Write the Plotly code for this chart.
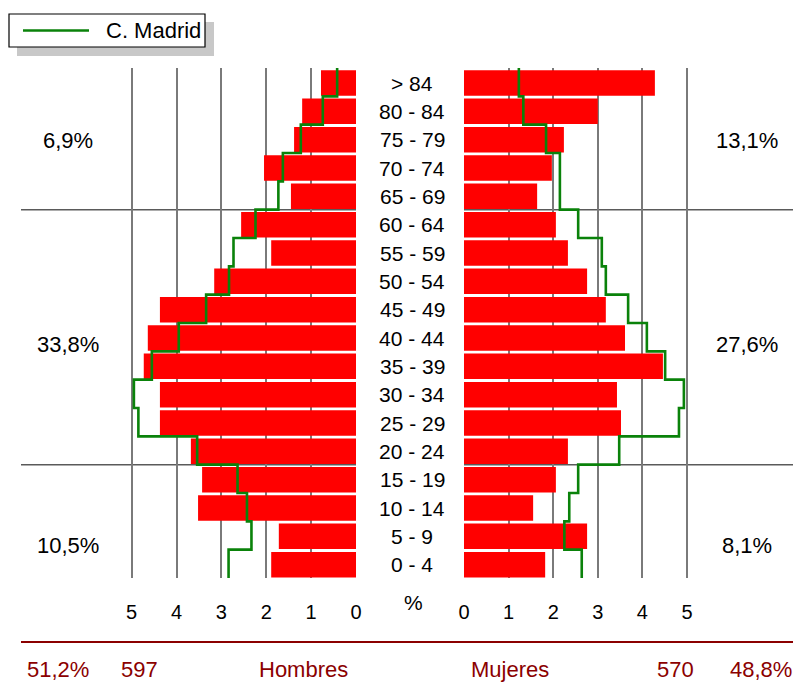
import numpy as np
import plotly.graph_objects as go

W, H = 793, 684

age_groups = ["0 - 4", "5 - 9", "10 - 14", "15 - 19", "20 - 24", "25 - 29", "30 - 34",
              "35 - 39", "40 - 44", "45 - 49", "50 - 54", "55 - 59", "60 - 64",
              "65 - 69", "70 - 74", "75 - 79", "80 - 84", "> 84"]

hombres = [1.89, 1.72, 3.52, 3.43, 3.68, 4.37, 4.37, 4.73, 4.64, 4.37, 3.16, 1.89, 2.56,
           1.45, 2.05, 1.38, 1.20, 0.78]
mujeres = [1.82, 2.76, 1.55, 2.06, 2.33, 3.52, 3.43, 4.46, 3.61, 3.18, 2.76, 2.33, 2.06,
           1.64, 1.97, 2.24, 3.00, 4.28]
madrid_h = [2.84, 2.33, 2.43, 2.64, 3.54, 4.85, 4.95, 4.55, 3.95, 3.34, 2.83, 2.73, 2.24,
            1.73, 1.63, 1.23, 0.74, 0.42]
madrid_m = [2.64, 2.25, 2.36, 2.56, 3.48, 4.82, 4.93, 4.51, 4.10, 3.68, 3.18, 3.09, 2.56,
            2.15, 2.15, 1.84, 1.33, 1.23]

tick_vals = [0, 1, 2, 3, 4, 5]
tick_text = ["0", "1", "2", "3", "4", "5"]

left_pct = ["10,5%", "33,8%", "6,9%"]
right_pct = ["8,1%", "27,6%", "13,1%"]
bottom_labels = ["51,2%", "597", "Hombres", "Mujeres", "570", "48,8%"]
legend_label = "C. Madrid"

FONT = "Liberation Sans, Arial, sans-serif"
RED = "#FF0000"
GREEN = "#0a820a"
DARKRED = "#8B0000"

idx = np.arange(len(age_groups))


def step(vals):
    v = np.asarray(vals, dtype=float)
    xs = np.repeat(v, 2)
    ys = np.column_stack([idx - 0.5, idx + 0.5]).ravel()
    return xs, ys


fig = go.Figure()

fig.add_trace(go.Bar(x=hombres, y=idx, orientation="h", marker=dict(color=RED, line=dict(width=0)),
                     width=0.9, offset=-0.48, xaxis="x", yaxis="y", showlegend=False,
                     hoverinfo="skip"))
fig.add_trace(go.Bar(x=mujeres, y=idx, orientation="h", marker=dict(color=RED, line=dict(width=0)),
                     width=0.9, offset=-0.48, xaxis="x2", yaxis="y2", showlegend=False,
                     hoverinfo="skip"))

xh, yh = step(madrid_h)
xm, ym = step(madrid_m)
fig.add_trace(go.Scatter(x=xh, y=yh, mode="lines", line=dict(color=GREEN, width=2.6),
                         xaxis="x", yaxis="y", name=legend_label, showlegend=False))
fig.add_trace(go.Scatter(x=xm, y=ym, mode="lines", line=dict(color=GREEN, width=2.6),
                         xaxis="x2", yaxis="y2", name=legend_label, showlegend=False))

y_dom = [1 - 578 / H, 1 - 68 / H]
xl0 = 21 / W
xl1 = 356 / W
xr0 = 464 / W

axis_common = dict(tickvals=tick_vals, ticktext=tick_text, showgrid=True, gridcolor="#7a7a7a",
                   gridwidth=1.5, zeroline=False, showline=False, ticks="", automargin=False,
                   tickfont=dict(family=FONT, size=20, color="black"), ticklabelstandoff=20,
                   fixedrange=True)

fig.update_layout(
    template="none",
    width=W, height=H,
    margin=dict(l=0, r=0, t=0, b=0, pad=0, autoexpand=False),
    paper_bgcolor="white", plot_bgcolor="white",
    barmode="overlay",
    font=dict(family=FONT, size=20, color="black"),
    xaxis=dict(domain=[xl0, xl1], range=[(356 - 21) / 44.87, 0], anchor="y", **axis_common),
    xaxis2=dict(domain=[xr0, 1], range=[0, (793 - 464) / 44.6], anchor="y2", **axis_common),
    yaxis=dict(domain=y_dom, range=[-0.5, 17.5], visible=False, fixedrange=True,
               automargin=False),
    yaxis2=dict(domain=y_dom, range=[-0.5, 17.5], visible=False, anchor="x2", fixedrange=True,
                automargin=False),
    showlegend=False,
)


def px(x):
    return x / W


def py(y):
    return 1 - y / H


shapes = []
# legend: shadow, box, line sample
shapes.append(dict(type="rect", xref="paper", yref="paper", x0=px(17), x1=px(214),
                   y0=py(56), y1=py(22), fillcolor="#c8c8c8", line=dict(width=0)))
shapes.append(dict(type="rect", xref="paper", yref="paper", x0=px(9), x1=px(205),
                   y0=py(47), y1=py(14), fillcolor="white", line=dict(color="black", width=1.2)))
shapes.append(dict(type="line", xref="paper", yref="paper", x0=px(23), x1=px(89),
                   y0=py(30.5), y1=py(30.5), line=dict(color=GREEN, width=2.6)))
# age-band separators (beneath the bars and the Madrid line)
for yb in (3.5, 12.5):
    shapes.append(dict(type="line", xref="paper", yref="y", x0=xl0, x1=xl1, y0=yb, y1=yb,
                       line=dict(color="#5a5a5a", width=1.5), layer="below"))
    shapes.append(dict(type="line", xref="paper", yref="y", x0=xr0, x1=1, y0=yb, y1=yb,
                       line=dict(color="#5a5a5a", width=1.5), layer="below"))
# bottom rule
shapes.append(dict(type="line", xref="paper", yref="paper", x0=px(21), x1=1,
                   y0=py(642), y1=py(642), line=dict(color=DARKRED, width=2)))
fig.update_layout(shapes=shapes)

ann = []
ann.append(dict(x=px(104), xref="paper", y=py(31), yref="paper", text=legend_label,
                showarrow=False, xanchor="left", yanchor="middle",
                font=dict(size=22, color="black")))
for i, lab in enumerate(age_groups):
    ann.append(dict(x=px(412), xref="paper", y=i - 0.03, yref="y", text=lab, showarrow=False,
                    xanchor="center", yanchor="middle", font=dict(size=21, color="black")))
ann.append(dict(x=px(413), xref="paper", y=py(602), yref="paper", text="%", showarrow=False,
                xanchor="center", yanchor="middle", font=dict(size=21, color="black")))

pct_y = [545, 344, 140]
for t, yy in zip(left_pct, pct_y):
    ann.append(dict(x=px(68), xref="paper", y=py(yy), yref="paper", text=t, showarrow=False,
                    xanchor="center", yanchor="middle", font=dict(size=22, color="black")))
for t, yy in zip(right_pct, pct_y):
    ann.append(dict(x=px(747), xref="paper", y=py(yy), yref="paper", text=t, showarrow=False,
                    xanchor="center", yanchor="middle", font=dict(size=22, color="black")))

bottom_x = [58, 139, 303, 510, 675, 761]
for t, bx in zip(bottom_labels, bottom_x):
    ann.append(dict(x=px(bx), xref="paper", y=py(669), yref="paper", text=t, showarrow=False,
                    xanchor="center", yanchor="middle", font=dict(size=22, color=DARKRED)))

fig.update_layout(annotations=ann)

fig.write_html("out.html", config={"displayModeBar": False},
               post_script="document.body.style.margin='0';document.body.style.overflow='hidden';")
